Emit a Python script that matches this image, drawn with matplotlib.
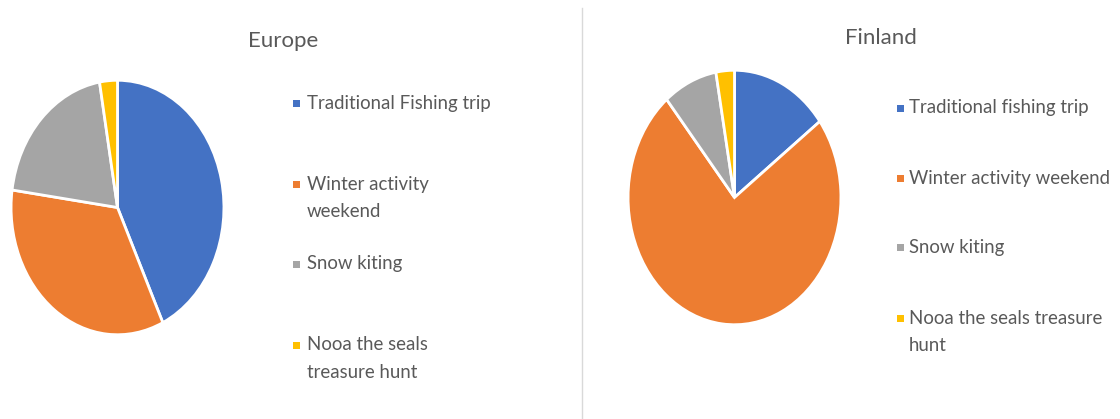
import matplotlib
matplotlib.use("Agg")
import matplotlib.pyplot as plt
from matplotlib.patches import Rectangle
from matplotlib.lines import Line2D

# Data
europe_labels = ["Traditional Fishing trip", "Winter activity\nweekend", "Snow kiting",
                 "Nooa the seals\ntreasure hunt"]
finland_labels = ["Traditional fishing trip", "Winter activity weekend", "Snow kiting",
                  "Nooa the seals treasure\nhunt"]
europe_values = [43.0, 34.2, 20.1, 2.7]
finland_values = [14.8, 74.2, 8.2, 2.8]
colors = ["#4472C4", "#ED7D31", "#A5A5A5", "#FFC000"]

W, H = 1120, 419
fig = plt.figure(figsize=(W / 100, H / 100), dpi=100)
FONT = ["Lato", "DejaVu Sans"]
TXT = "#595959"


def px_axes(left, top, width, height):
    return fig.add_axes([left / W, 1 - (top + height) / H, width / W, height / H])


def draw_pie(left, top, width, height, values):
    ax = px_axes(left, top, width, height)
    ax.pie(values, colors=colors, startangle=90, counterclock=False,
           wedgeprops=dict(edgecolor="white", linewidth=2.0, antialiased=True))
    ax.set_aspect("auto")
    ax.set_xlim(-1.01, 1.01)
    ax.set_ylim(-1.01, 1.01)
    ax.axis("off")


draw_pie(10, 79, 215, 257, europe_values)
draw_pie(627, 69, 215, 257, finland_values)

# Titles
fig.text(283 / W, 1 - 41 / H, "Europe", ha="center", va="center",
         fontsize=16, color=TXT, family=FONT)
fig.text(881 / W, 1 - 38 / H, "Finland", ha="center", va="center",
         fontsize=16, color=TXT, family=FONT)


def draw_legend(mx, tx, ys, labels):
    for y, lab, c in zip(ys, labels, colors):
        fig.patches.append(Rectangle(((mx) / W, 1 - (y + 4) / H), 7 / W, 7 / H,
                                     transform=fig.transFigure, facecolor=c,
                                     edgecolor="none"))
        fig.text(tx / W, 1 - (y - 8.5) / H, lab, ha="left", va="top",
                 fontsize=13.4, color=TXT, family=FONT, linespacing=1.72)


draw_legend(293, 307, [103, 184, 264, 345], europe_labels)
draw_legend(897, 909, [108, 178, 247, 318], finland_labels)

# Divider
fig.add_artist(Line2D([582 / W, 582 / W], [0, 1 - 8 / H], transform=fig.transFigure,
                      color="#D9D9D9", linewidth=1))

fig.savefig("out.png", dpi=100, facecolor="white")
